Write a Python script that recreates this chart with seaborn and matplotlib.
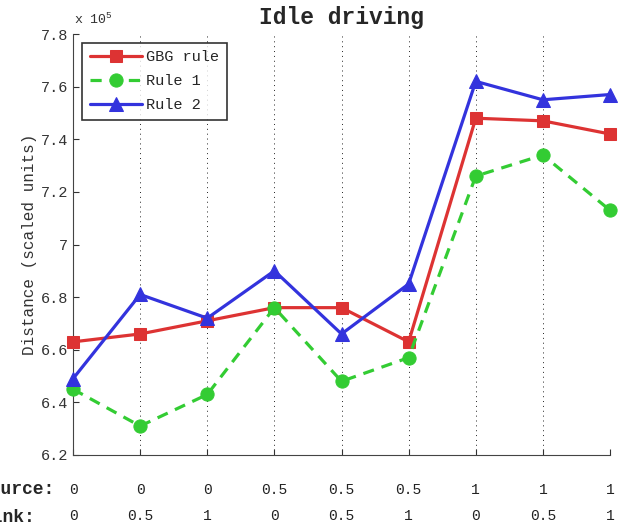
import numpy as np
import pandas as pd
import matplotlib
matplotlib.use("Agg")
import matplotlib.pyplot as plt
import seaborn as sns

# settings (source, link) for each run, and distances in units of 1e5
source = ["0", "0", "0", "0.5", "0.5", "0.5", "1", "1", "1"]
link = ["0", "0.5", "1", "0", "0.5", "1", "0", "0.5", "1"]
gbg_rule = [6.63, 6.66, 6.71, 6.76, 6.76, 6.63, 7.48, 7.47, 7.42]
rule_1 = [6.45, 6.31, 6.43, 6.76, 6.48, 6.57, 7.26, 7.34, 7.13]
rule_2 = [6.49, 6.81, 6.72, 6.90, 6.66, 6.85, 7.62, 7.55, 7.57]

runs = np.arange(1, len(source) + 1)

sns.set_style("ticks")
plt.rcParams["font.family"] = ["Liberation Mono", "DejaVu Sans Mono"]
plt.rcParams["mathtext.fontset"] = "custom"
plt.rcParams["mathtext.rm"] = "Liberation Mono"

fig = plt.figure(figsize=(6.21, 5.29), dpi=100)
ax = fig.add_axes([0.1176, 0.1399, 0.8647, 0.7958])

series = [
    ("GBG rule", gbg_rule, "#dd3333", "s", "-", 9),
    ("Rule 1", rule_1, "#33cc33", "o", (0, (3.5, 2.5)), 9.5),
    ("Rule 2", rule_2, "#3333dd", "^", "-", 10.5),
]
for name, vals, col, mk, ls, ms in series:
    sns.lineplot(x=runs, y=vals, ax=ax, color=col, marker=mk, linestyle=ls,
                 linewidth=2.3, markersize=ms, markeredgecolor=col,
                 label=name, clip_on=False, zorder=3)

ax.set_xlim(1, 9)
ax.set_ylim(6.2, 7.8)
ax.set_yticks(np.arange(6.2, 7.81, 0.2))
ax.set_yticklabels([f"{v:g}" for v in np.round(np.arange(6.2, 7.81, 0.2), 1)])
ax.set_xticks(runs)
ax.tick_params(axis="both", direction="in", length=4, width=0.8,
               labelsize=11, colors="#333333")
ax.tick_params(axis="x", pad=20, labelsize=10.5, labelcolor="#222222")
ax.set_xticklabels([f"{s}\n{l}" for s, l in zip(source, link)],
                   linespacing=2.1)
ax.xaxis.grid(True, linestyle=(0, (1, 4)), color="#222222", linewidth=0.7)
sns.despine(ax=ax)
for sp in ["left", "bottom"]:
    ax.spines[sp].set_color("#444444")

ax.set_title("Idle driving", fontsize=16.5, fontweight="bold", pad=7)
ax.set_ylabel("Distance (scaled units)", fontsize=11.5, color="#333333",
              labelpad=3)
fig.text(74 / 621, 1 - 19 / 529, r"x 10$^{5}$", fontsize=9.5,
         color="#333333", va="center")

fig.text(55 / 621, 1 - 490 / 529, "Source:", fontsize=13,
         fontweight="bold", ha="right", va="center")
fig.text(35 / 621, 1 - 517 / 529, "Link:", fontsize=13,
         fontweight="bold", ha="right", va="center")

leg = ax.legend(loc="upper left", fontsize=11, frameon=True, fancybox=False,
                handlelength=3.4, handletextpad=0.3, borderpad=0.5,
                labelspacing=0.65, borderaxespad=0,
                bbox_to_anchor=(0.0168, 0.979))
leg.get_frame().set_edgecolor("black")
leg.get_frame().set_linewidth(1.2)

fig.savefig("out.png", dpi=100)
